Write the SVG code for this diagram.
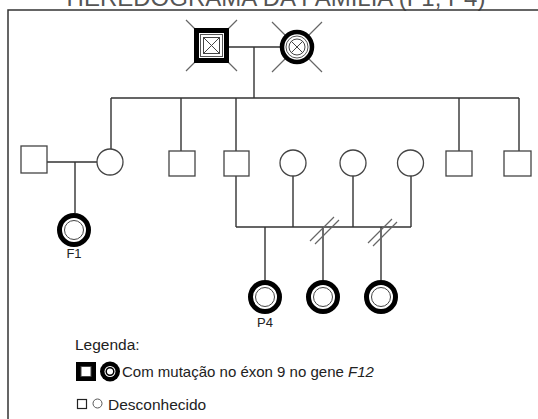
<svg xmlns="http://www.w3.org/2000/svg" xmlns:xlink="http://www.w3.org/1999/xlink" width="538" height="419" viewBox="0 0 538 419">
  <style>
    .frame { fill: none; stroke: #333; stroke-width: 1.5; }
    .line { fill: none; stroke: #333; stroke-width: 1.4; }
    .slash { fill: none; stroke: #666; stroke-width: 1.2; }
    .dec { stroke: #666; stroke-width: 1.2; }
    .unk { fill: #fff; stroke: #444; stroke-width: 1.3; }
    .ring { fill: #fff; stroke: #000; stroke-width: 5; }
    .thin { fill: #fff; stroke: #444; stroke-width: 1; }
    .txt { font-family: "Liberation Sans", Arial, sans-serif; fill: #222; }
    .title { font-family: "Liberation Sans", Arial, sans-serif; fill: #555; font-size: 24px; }
  </style>
  <defs>
    <!-- affected female: thick black ring with thin inner ring -->
    <g id="affF">
      <circle class="ring" r="14.5"/>
      <circle class="thin" r="9.5"/>
    </g>
  </defs>

  <rect width="538" height="419" fill="#fff"/>

  <!-- title, its upper part runs off the top edge -->
  <text class="title" x="276" y="6" text-anchor="middle">HEREDOGRAMA DA FAMÍLIA (F1, P4)</text>

  <!-- outer frame -->
  <rect class="frame" x="8" y="10" width="600" height="500"/>

  <!-- connectors -->
  <g id="connectors">
    <!-- grandparents -->
    <path class="line" d="M229 47 H280 M254 47 V98"/>
    <path class="line" d="M111 98 H519 M111 98 V149 M181 98 V151 M236 98 V151 M459 98 V151 M519 98 V151"/>
    <!-- left couple -->
    <path class="line" d="M47 162 H97 M75 162 V213"/>
    <!-- central partnerships -->
    <path class="line" d="M236 176 V227 M293 176 V227 M353 176 V227 M411 176 V227 M236 227 H411"/>
    <path class="line" d="M265 227 V280 M323 227 V280 M381 227 V280"/>
    <!-- double slashes -->
    <path class="slash" d="M310 241 L334 217 M315 244 L339 220"/>
    <path class="slash" d="M368 243 L392 219 M373 246 L397 222"/>
  </g>

  <!-- generation I -->
  <g id="grandfather">
    <path class="dec" d="M186 20 L237 71 M237 20 L186 71"/>
    <rect x="194" y="28" width="35" height="35" fill="#000"/>
    <rect x="199" y="33" width="25" height="25" fill="#fff"/>
    <rect x="200.5" y="34.5" width="22" height="22" fill="none" stroke="#555" stroke-width="1"/>
    <rect x="203.5" y="37.5" width="16" height="16" fill="none" stroke="#444" stroke-width="1"/>
    <path d="M203.5 37.5 L219.5 53.5 M219.5 37.5 L203.5 53.5" stroke="#444" stroke-width="1"/>
  </g>
  <g id="grandmother">
    <path class="dec" d="M272 22 L322 72 M322 22 L272 72"/>
    <circle cx="297" cy="47" r="15" fill="#fff" stroke="#000" stroke-width="4.5"/>
    <circle cx="297" cy="47" r="11" fill="#fff" stroke="#555" stroke-width="1"/>
    <circle cx="297" cy="47" r="8" fill="#fff" stroke="#444" stroke-width="1"/>
    <path d="M291.3 41.3 L302.7 52.7 M302.7 41.3 L291.3 52.7" stroke="#444" stroke-width="1"/>
  </g>

  <!-- generation II -->
  <g id="ii-husband"><rect class="unk" x="21" y="146" width="26" height="27"/></g>
  <g id="ii-daughter1"><circle class="unk" cx="110" cy="162" r="13"/></g>
  <g id="ii-son1"><rect class="unk" x="169" y="151" width="26" height="25"/></g>
  <g id="ii-son2"><rect class="unk" x="224" y="151" width="25" height="25"/></g>
  <g id="ii-partner1"><circle class="unk" cx="293" cy="163" r="13"/></g>
  <g id="ii-partner2"><circle class="unk" cx="353" cy="163" r="13"/></g>
  <g id="ii-partner3"><circle class="unk" cx="410.5" cy="163" r="13"/></g>
  <g id="ii-son3"><rect class="unk" x="446" y="151" width="26" height="25"/></g>
  <g id="ii-son4"><rect class="unk" x="504" y="151" width="27" height="25"/></g>

  <!-- generation III -->
  <g id="f1">
    <use xlink:href="#affF" x="74" y="230"/>
    <text class="txt" x="74" y="258" font-size="13" text-anchor="middle">F1</text>
  </g>
  <g id="p4">
    <use xlink:href="#affF" x="265" y="297"/>
    <text class="txt" x="265" y="327" font-size="13" text-anchor="middle">P4</text>
  </g>
  <g id="sib2"><use xlink:href="#affF" x="323" y="297"/></g>
  <g id="sib3"><use xlink:href="#affF" x="381" y="297"/></g>

  <!-- legend -->
  <g id="legend">
    <text class="txt" x="75" y="350" font-size="15.5">Legenda:</text>
    <rect x="76" y="362" width="20" height="19" fill="#000"/>
    <rect x="81" y="366.5" width="10" height="10" fill="#fff" stroke="#444" stroke-width="1"/>
    <circle cx="110" cy="371.5" r="10" fill="#000"/>
    <circle cx="110" cy="371.5" r="5.5" fill="#fff"/>
    <circle cx="110" cy="371.5" r="3.8" fill="#fff" stroke="#000" stroke-width="1.5"/>
    <text class="txt" x="122" y="377" font-size="15">Com mutação no éxon 9 no gene <tspan font-style="italic">F12</tspan></text>
    <rect x="77.5" y="399.5" width="9" height="9" fill="#fff" stroke="#222" stroke-width="1.2"/>
    <circle cx="97.5" cy="403.5" r="4.5" fill="#fff" stroke="#555" stroke-width="1"/>
    <text class="txt" x="108" y="410" font-size="15.5">Desconhecido</text>
  </g>
</svg>
